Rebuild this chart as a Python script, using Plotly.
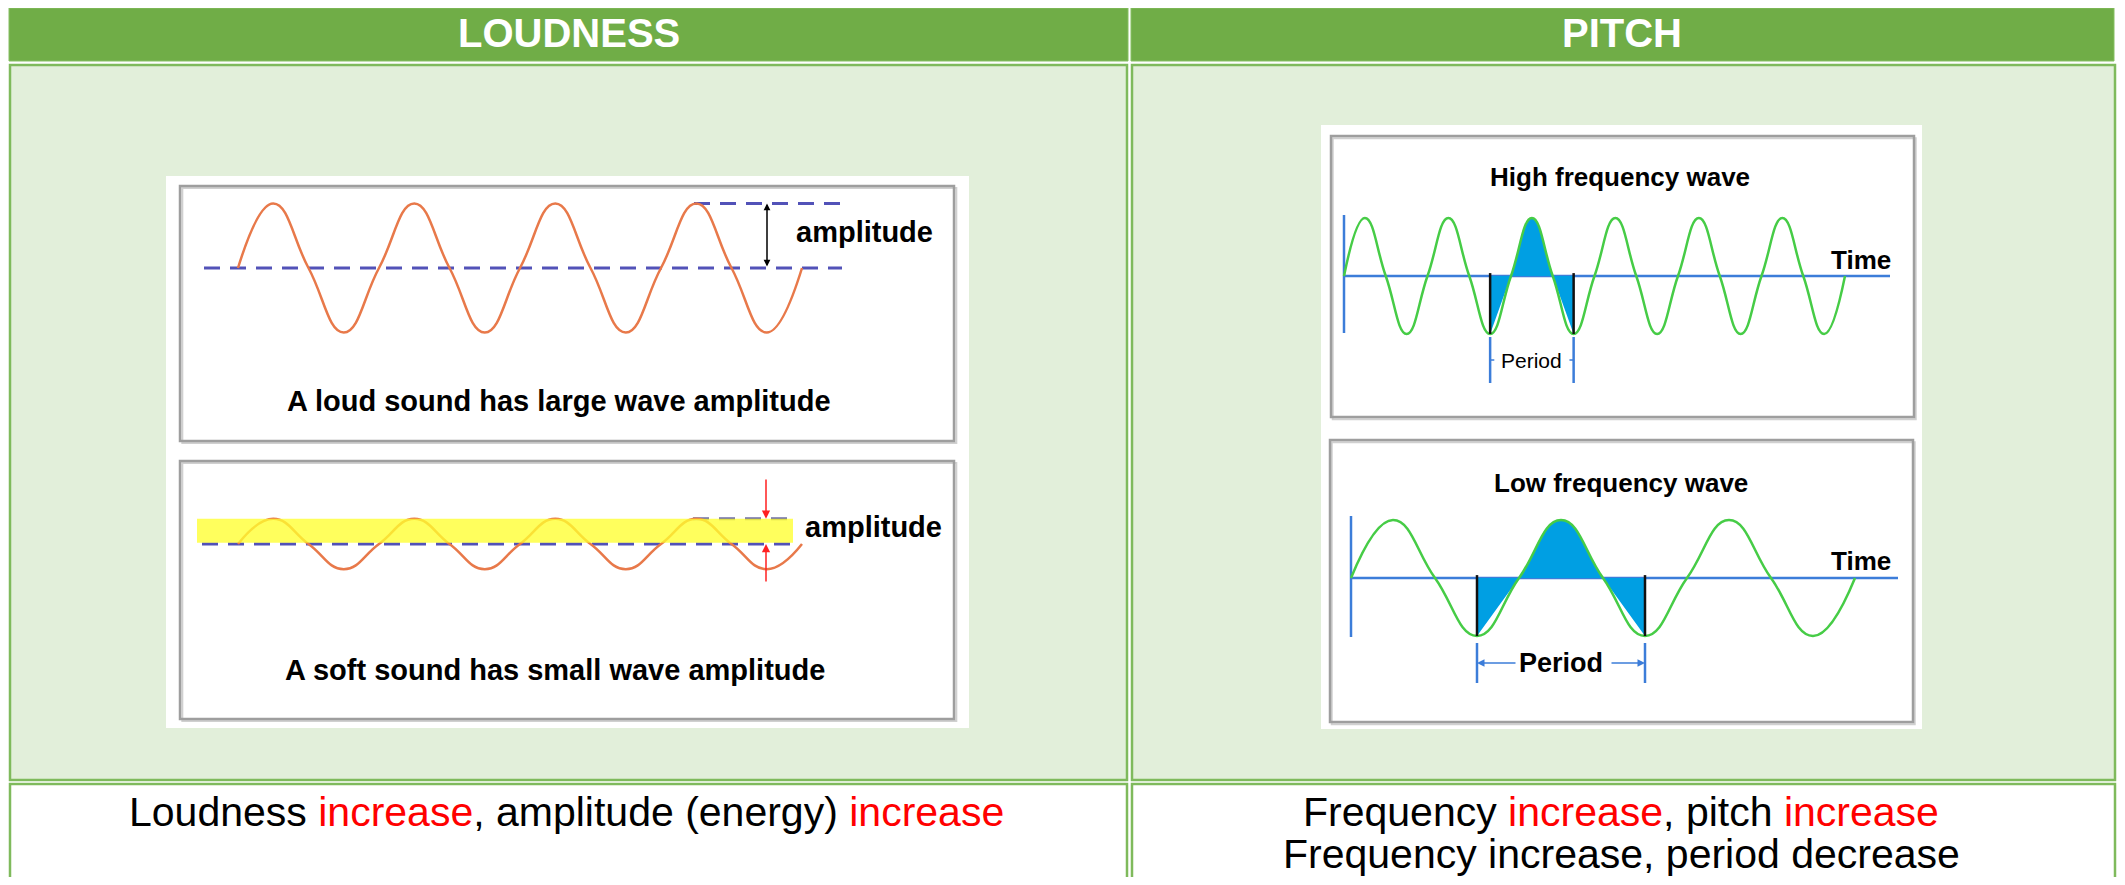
import plotly.graph_objects as go

# ---------------- data ----------------
header_labels = ["LOUDNESS", "PITCH"]
loud_caption = "A loud sound has large wave amplitude"
soft_caption = "A soft sound has small wave amplitude"
amp_label = "amplitude"
high_title = "High frequency wave"
low_title = "Low frequency wave"
time_label = "Time"
period_label = "Period"
footer_left = [("Loudness ", "black"), ("increase", "red"),
               (", amplitude (energy) ", "black"), ("increase", "red")]
footer_right_1 = [("Frequency ", "black"), ("increase", "red"),
                  (", pitch ", "black"), ("increase", "red")]
footer_right_2 = [("Frequency increase, period decrease", "black")]

# wave key points (zero crossings and extrema), time in periods
loud_t = [0, 0.25, 0.5, 0.75, 1, 1.25, 1.5, 1.75, 2, 2.25, 2.5, 2.75, 3, 3.25, 3.5, 3.75, 4]
loud_y = [0, 1, 0, -1, 0, 1, 0, -1, 0, 1, 0, -1, 0, 1, 0, -1, 0]
soft_t = [0, 0.25, 0.5, 0.75, 1, 1.25, 1.5, 1.75, 2, 2.25, 2.5, 2.75, 3, 3.25, 3.5, 3.75, 4]
soft_y = [0, 0.39, 0, -0.39, 0, 0.39, 0, -0.39, 0, 0.39, 0, -0.39, 0, 0.39, 0, -0.39, 0]
loud_amp = 1.0
soft_amp = 0.39

high_t = [0, 0.25, 0.5, 0.75, 1, 1.25, 1.5, 1.75, 2, 2.25, 2.5, 2.75, 3, 3.25, 3.5, 3.75,
          4, 4.25, 4.5, 4.75, 5, 5.25, 5.5, 5.75, 6]
high_y = [0, 1, 0, -1, 0, 1, 0, -1, 0, 1, 0, -1, 0, 1, 0, -1, 0, 1, 0, -1, 0, 1, 0, -1, 0]
low_t = [0, 0.5, 1, 1.5, 2, 2.5, 3, 3.5, 4, 4.5, 5, 5.5, 6]
low_y = [0, 1, 0, -1, 0, 1, 0, -1, 0, 1, 0, -1, 0]
high_period_span = [1.75, 2.75]
low_period_span = [1.5, 3.5]

# ---------------- layout geometry (pixels of the 2125x885 window) ----------------
PAGE_MARGIN = 8            # default body margin of the html page
W, H = 2125 - 2 * PAGE_MARGIN, 885 - 2 * PAGE_MARGIN
FONT = "Liberation Sans, Arial, sans-serif"
ORANGE = "#E8794A"
DASH_BLUE = "#5252B8"
GREEN = "#46CC46"
AXIS_BLUE = "#3C7DD9"
FILL_BLUE = "#009FE3"

panels = {
    "loud": dict(box=(180, 954, 186, 441), t0=238, ppu=141, base=268, ppa=64.5),
    "soft": dict(box=(180, 954, 461, 719), t0=238, ppu=141, base=544, ppa=64.5),
    "high": dict(box=(1331, 1914, 136, 417), t0=1344, ppu=83.5, base=276, ppa=58),
    "low": dict(box=(1330, 1913, 440, 722), t0=1351, ppu=84, base=578, ppa=58),
}
order = ["loud", "soft", "high", "low"]


def px(x):
    return (x - PAGE_MARGIN) / W


def py(y):
    return 1 - (y - PAGE_MARGIN) / H


def tx(p, xpx):
    return (xpx - panels[p]["t0"]) / panels[p]["ppu"]


def ty(p, ypx):
    return (panels[p]["base"] - ypx) / panels[p]["ppa"]


shapes = []
annotations = []


def rect_px(x0, y0, x1, y1, fill=None, line=None, lw=0):
    shapes.append(dict(type="rect", xref="paper", yref="paper",
                       x0=px(x0), x1=px(x1), y0=py(y1), y1=py(y0),
                       fillcolor=fill or "rgba(0,0,0,0)",
                       line=dict(color=line or "rgba(0,0,0,0)", width=lw),
                       layer="below"))


# table
rect_px(9, 8, 1128, 61, fill="#70AD47", line="#86BF63", lw=1)
rect_px(1131, 8, 2114, 61, fill="#70AD47", line="#86BF63", lw=1)
rect_px(10, 65, 1127, 780, fill="#E2EFDA", line="#7FBA5C", lw=2.5)
rect_px(1132, 65, 2115, 780, fill="#E2EFDA", line="#7FBA5C", lw=2.5)
rect_px(10, 784, 1127, 900, fill="white", line="#7FBA5C", lw=2.5)
rect_px(1132, 784, 2115, 900, fill="white", line="#7FBA5C", lw=2.5)
# white picture backgrounds
rect_px(166, 176, 969, 728, fill="white")
rect_px(1321, 125, 1922, 729, fill="white")


def rich(parts):
    return "".join(f"<span style='color:{c}'>{t}</span>" for t, c in parts)


def paper_text(s, x, y, size, color):
    annotations.append(dict(text=s, x=px(x), y=py(y), xref="paper", yref="paper",
                            xanchor="center", yanchor="middle", showarrow=False,
                            font=dict(family=FONT, size=size, color=color)))


# header + footer text
paper_text(f"<b>{header_labels[0]}</b>", 569, 33, 40, "white")
paper_text(f"<b>{header_labels[1]}</b>", 1622, 33, 40, "white")
paper_text(rich(footer_left), 566, 812, 41, "black")
paper_text(rich(footer_right_1), 1621, 812, 41, "black")
paper_text(rich(footer_right_2), 1621, 854, 41, "black")

fig = go.Figure()
layout_axes = {}
refs = {}
for i, name in enumerate(order):
    p = panels[name]
    bx0, bx1, by0, by1 = p["box"]
    n = "" if i == 0 else str(i + 1)
    xa, ya = "xaxis" + n, "yaxis" + n
    refs[name] = ("x" + n, "y" + n)
    layout_axes[xa] = dict(domain=[px(bx0), px(bx1)],
                           range=[tx(name, bx0), tx(name, bx1)],
                           visible=False, fixedrange=True, anchor="y" + n)
    layout_axes[ya] = dict(domain=[py(by1), py(by0)],
                           range=[ty(name, by1), ty(name, by0)],
                           visible=False, fixedrange=True, anchor="x" + n)
    # gray picture frame with light shadow
    shapes.append(dict(type="rect", xref="x" + n + " domain", yref="y" + n + " domain",
                       x0=0.003, x1=1.003, y0=-0.008, y1=0.992,
                       line=dict(color="#D0D0D0", width=2), layer="below"))
    shapes.append(dict(type="rect", xref="x" + n + " domain", yref="y" + n + " domain",
                       x0=0, x1=1, y0=0, y1=1,
                       line=dict(color="#9E9E9E", width=2.5), layer="below"))


def line(p, x0, y0, x1, y1, color, width=2, dash=None, layer="below"):
    xr, yr = refs[p]
    d = dict(type="line", xref=xr, yref=yr, x0=x0, y0=y0, x1=x1, y1=y1,
             line=dict(color=color, width=width), layer=layer)
    if dash:
        d["line"]["dash"] = dash
    shapes.append(d)


def text(p, s, x, y, size, bold=True, xanchor="center", color="black"):
    xr, yr = refs[p]
    annotations.append(dict(text=f"<b>{s}</b>" if bold else s, x=x, y=y, xref=xr, yref=yr,
                            showarrow=False, xanchor=xanchor, yanchor="middle",
                            font=dict(family=FONT, size=size, color=color)))


def arrow(p, x, y, ax, ay, color, width=1.5, both=False, head=2, size=1.0):
    xr, yr = refs[p]
    annotations.append(dict(text="", x=x, y=y, ax=ax, ay=ay, xref=xr, yref=yr,
                            axref=xr, ayref=yr, showarrow=True, arrowhead=head,
                            arrowsize=size, arrowwidth=width, arrowcolor=color,
                            arrowside="end+start" if both else "end",
                            startarrowhead=head, startarrowsize=size))


SMOOTH = 1.3

# ---- loud panel ----
xr, yr = refs["loud"]
fig.add_trace(go.Scatter(x=loud_t, y=loud_y, xaxis=xr, yaxis=yr, mode="lines",
                         line=dict(color=ORANGE, width=2.5, shape="spline", smoothing=SMOOTH),
                         hoverinfo="skip"))
line("loud", tx("loud", 204), 0, tx("loud", 842), 0, DASH_BLUE, 3, "16px,10px")
line("loud", tx("loud", 694), loud_amp, tx("loud", 842), loud_amp, DASH_BLUE, 3, "16px,10px")
arrow("loud", tx("loud", 767), loud_amp, tx("loud", 767), 0, "black", 1.5, both=True, head=2, size=0.9)
text("loud", amp_label, tx("loud", 794), ty("loud", 232), 29, xanchor="left")
text("loud", loud_caption, tx("loud", 559), ty("loud", 401), 29)

# ---- soft panel ----
xr, yr = refs["soft"]
fig.add_trace(go.Scatter(x=soft_t, y=soft_y, xaxis=xr, yaxis=yr, mode="lines",
                         line=dict(color=ORANGE, width=2.5, shape="spline", smoothing=SMOOTH),
                         hoverinfo="skip"))
line("soft", tx("soft", 202), 0, tx("soft", 795), 0, DASH_BLUE, 3, "16px,10px")
line("soft", tx("soft", 693), soft_amp, tx("soft", 795), soft_amp, "#7070A8", 3, "16px,10px")
shapes.append(dict(type="rect", xref=xr, yref=yr, x0=tx("soft", 197), x1=tx("soft", 793),
                   y0=0.02, y1=soft_amp, fillcolor="#FFFF30", opacity=0.78,
                   line=dict(width=0), layer="above"))
arrow("soft", tx("soft", 766), soft_amp, tx("soft", 766), ty("soft", 478), "#FF2020", 1.5, head=2, size=1.1)
arrow("soft", tx("soft", 766), 0, tx("soft", 766), ty("soft", 583), "#FF2020", 1.5, head=2, size=1.1)
text("soft", amp_label, tx("soft", 803), ty("soft", 527), 29, xanchor="left")
text("soft", soft_caption, tx("soft", 555), ty("soft", 670), 29)


# ---- pitch panels ----
def pitch_panel(p, t, y, span, title, title_px, period_size, period_bold, marker_px, arrows_px,
                time_px, haxis_end, vaxis_px):
    xr, yr = refs[p]
    # blue axes
    line(p, 0, ty(p, vaxis_px[1]), 0, ty(p, vaxis_px[0]), AXIS_BLUE, 2.5)
    line(p, 0, 0, tx(p, haxis_end), 0, AXIS_BLUE, 2.5)
    # shaded period
    st = [a for a in t if span[0] <= a <= span[1]]
    sy = [b for a, b in zip(t, y) if span[0] <= a <= span[1]]
    fig.add_trace(go.Scatter(x=st, y=sy, xaxis=xr, yaxis=yr, mode="lines", fill="tozeroy",
                             fillcolor=FILL_BLUE, line=dict(width=0, shape="spline", smoothing=SMOOTH),
                             hoverinfo="skip"))
    fig.add_trace(go.Scatter(x=t, y=y, xaxis=xr, yaxis=yr, mode="lines",
                             line=dict(color=GREEN, width=2.5, shape="spline", smoothing=SMOOTH),
                             hoverinfo="skip"))
    # black boundary lines
    for s in span:
        line(p, s, 0.05, s, -1, "#111111", 2.5, layer="above")
    # period markers
    for s in span:
        line(p, s, ty(p, marker_px[0]), s, ty(p, marker_px[1]), AXIS_BLUE, 2.5)
    ymid = ty(p, (marker_px[0] + marker_px[1]) / 2)
    if arrows_px:
        arrow(p, span[0], ymid, tx(p, arrows_px[0]), ymid, AXIS_BLUE, 1.5, head=2, size=1.0)
        arrow(p, span[1], ymid, tx(p, arrows_px[1]), ymid, AXIS_BLUE, 1.5, head=2, size=1.0)
    else:
        line(p, span[0], ymid, span[0] + 0.05, ymid, AXIS_BLUE, 1.5)
        line(p, span[1] - 0.05, ymid, span[1], ymid, AXIS_BLUE, 1.5)
    text(p, period_label, (span[0] + span[1]) / 2, ymid, period_size, bold=period_bold)
    text(p, title, tx(p, title_px[0]), ty(p, title_px[1]), 26)
    text(p, time_label, tx(p, time_px[0]), ty(p, time_px[1]), 26, xanchor="right")


pitch_panel("high", high_t, high_y, high_period_span, high_title, (1620, 177), 21, False,
            (337, 383), None, (1893, 260), 1890, (215, 333))
pitch_panel("low", low_t, low_y, low_period_span, low_title, (1621, 483), 27, True,
            (643, 683), (1517, 1610), (1893, 561), 1898, (516, 637))

fig.update_layout(width=W, height=H, margin=dict(l=0, r=0, t=0, b=0, pad=0),
                  paper_bgcolor="white", plot_bgcolor="rgba(0,0,0,0)",
                  showlegend=False, hovermode=False,
                  shapes=shapes, annotations=annotations, **layout_axes)
fig.write_html("out.html")
